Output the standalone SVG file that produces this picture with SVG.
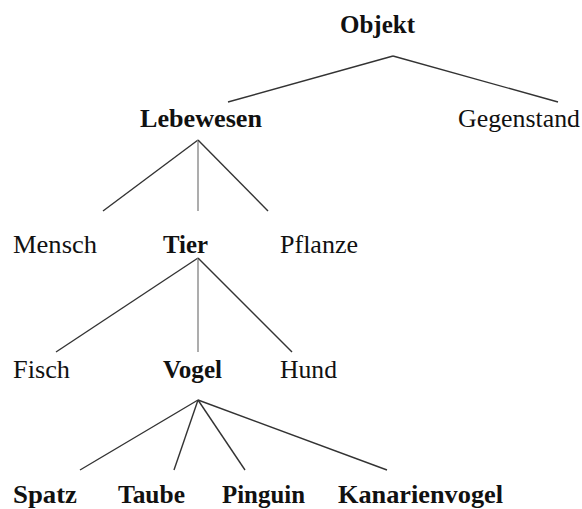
<svg xmlns="http://www.w3.org/2000/svg" width="582" height="509" viewBox="0 0 582 509">
<style>
text{font-family:'Liberation Serif','Tinos','Times New Roman','DejaVu Serif',serif;font-size:25px;fill:#111}
.b{font-weight:bold}
.e{stroke:#333;stroke-width:1.4;fill:none}
.g{stroke:#999;stroke-width:1.6;fill:none}
</style>
<rect width="582" height="509" fill="#fff"/>
<g id="connectors">
<line class="e" x1="393" y1="56" x2="228" y2="102"/>
<line class="e" x1="393" y1="56" x2="558" y2="102"/>
<line class="e" x1="198" y1="140" x2="103" y2="211"/>
<line class="g" x1="198" y1="140" x2="198" y2="211"/>
<line class="e" x1="198" y1="140" x2="268" y2="211"/>
<line class="e" x1="198" y1="258" x2="56" y2="352"/>
<line class="g" x1="198" y1="258" x2="198" y2="352"/>
<line class="e" x1="198" y1="258" x2="292" y2="352"/>
<line class="e" x1="198" y1="400" x2="80" y2="470"/>
<line class="e" x1="198" y1="400" x2="174" y2="470"/>
<line class="e" x1="198" y1="400" x2="245" y2="470"/>
<line class="e" x1="198" y1="400" x2="387" y2="470"/>
</g>
<g id="objekt"><text class="b" x="340" y="33" textLength="75" lengthAdjust="spacingAndGlyphs">Objekt</text></g>
<g id="lebewesen"><text class="b" x="140" y="127" textLength="122" lengthAdjust="spacingAndGlyphs">Lebewesen</text></g>
<g id="gegenstand"><text x="458" y="127" textLength="122" lengthAdjust="spacingAndGlyphs">Gegenstand</text></g>
<g id="mensch"><text x="13" y="253" textLength="84" lengthAdjust="spacingAndGlyphs">Mensch</text></g>
<g id="tier"><text class="b" x="163" y="253" textLength="45" lengthAdjust="spacingAndGlyphs">Tier</text></g>
<g id="pflanze"><text x="280" y="253" textLength="78" lengthAdjust="spacingAndGlyphs">Pflanze</text></g>
<g id="fisch"><text x="13" y="378" textLength="57" lengthAdjust="spacingAndGlyphs">Fisch</text></g>
<g id="vogel"><text class="b" x="163" y="378" textLength="59" lengthAdjust="spacingAndGlyphs">Vogel</text></g>
<g id="hund"><text x="280" y="378" textLength="57" lengthAdjust="spacingAndGlyphs">Hund</text></g>
<g id="spatz"><text class="b" x="13" y="503" textLength="64" lengthAdjust="spacingAndGlyphs">Spatz</text></g>
<g id="taube"><text class="b" x="118" y="503" textLength="67" lengthAdjust="spacingAndGlyphs">Taube</text></g>
<g id="pinguin"><text class="b" x="222" y="503" textLength="83" lengthAdjust="spacingAndGlyphs">Pinguin</text></g>
<g id="kanarienvogel"><text class="b" x="338" y="503" textLength="165" lengthAdjust="spacingAndGlyphs">Kanarienvogel</text></g>
</svg>
